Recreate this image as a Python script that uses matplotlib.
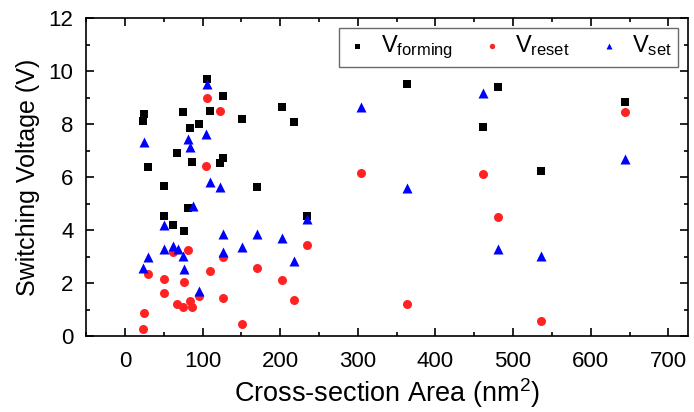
import matplotlib
matplotlib.use('Agg')
import matplotlib.pyplot as plt
from matplotlib.ticker import MultipleLocator

plt.rcParams['font.family'] = ['Liberation Sans', 'DejaVu Sans']
plt.rcParams['mathtext.fontset'] = 'custom'
plt.rcParams['mathtext.rm'] = 'Liberation Sans'
plt.rcParams['mathtext.it'] = 'Liberation Sans'

# V_forming
form_x = [105.9, 127, 24.9, 23.6, 74.3, 109, 151, 95, 83.7, 67, 87, 127, 123, 30,
          51, 169.6, 80.7, 50.6, 62.2, 76.4, 363, 202, 218, 234, 480, 644.7, 461.4, 536.6]
form_y = [9.69, 9.06, 8.40, 8.12, 8.45, 8.48, 8.20, 8.01, 7.85, 6.93, 6.58, 6.73, 6.53, 6.40,
          5.67, 5.64, 4.82, 4.53, 4.21, 3.97, 9.50, 8.63, 8.08, 4.53, 9.41, 8.84, 7.88, 6.25]

# V_reset
reset_x = [106, 123, 104.7, 81.5, 62.2, 126.6, 30, 109, 169.6, 50.2, 76.4, 51, 95.3, 127, 66.5,
           74.3, 84, 87, 24.9, 23.6, 151, 303.5, 234, 202, 218, 363, 644.7, 461.4, 480, 536.6]
reset_y = [9.0, 8.48, 6.42, 3.25, 3.16, 2.99, 2.33, 2.46, 2.57, 2.14, 2.04, 1.64, 1.51, 1.45, 1.20,
           1.11, 1.32, 1.11, 0.88, 0.29, 0.45, 6.16, 3.43, 2.11, 1.36, 1.23, 8.46, 6.11, 4.48, 0.59]

# V_set
set_x = [106, 104.7, 24.9, 80.7, 84, 109, 123, 87.6, 51, 126.6, 169.6, 30, 50.2, 62.2, 68,
         74.3, 127, 151, 23.6, 76.4, 96.1, 303.5, 363, 234, 202, 218, 461.4, 644.7, 480, 536.6]
set_y = [9.53, 7.62, 7.33, 7.43, 7.13, 5.80, 5.64, 4.9, 4.19, 3.85, 3.85, 3.0, 3.28, 3.40, 3.28,
         3.03, 3.18, 3.35, 2.57, 2.52, 1.70, 8.63, 5.60, 4.44, 3.69, 2.83, 9.16, 6.69, 3.29, 3.04]

fig = plt.figure(figsize=(6.94, 4.12), dpi=100)
ax = fig.add_axes([0.124, 0.184, 0.867, 0.772])

ax.scatter(form_x, form_y, marker='s', s=36, color='black', linewidths=0, label=r'V$_{\mathrm{forming}}$', zorder=3)
ax.scatter(reset_x, reset_y, marker='o', s=42, color='#ff2222', linewidths=0, label=r'V$_{\mathrm{reset}}$', zorder=3)
ax.scatter(set_x, set_y, marker='^', s=52, color='#0000ff', linewidths=0, label=r'V$_{\mathrm{set}}$', zorder=3)

ax.set_xlim(-50, 725)
ax.set_ylim(0, 12)
ax.xaxis.set_major_locator(MultipleLocator(100))
ax.xaxis.set_minor_locator(MultipleLocator(50))
ax.yaxis.set_major_locator(MultipleLocator(2))
ax.yaxis.set_minor_locator(MultipleLocator(1))
ax.tick_params(which='both', direction='in', top=True, right=True, labelsize=16, width=1.2)
ax.tick_params(which='major', length=6)
ax.tick_params(which='minor', length=3)
ax.tick_params(axis='x', which='major', pad=11)
ax.tick_params(axis='y', which='major', pad=9)
for sp in ax.spines.values():
    sp.set_linewidth(1.2)

ax.set_xlabel(r'Cross-section Area (nm$^2$)', fontsize=19.5, labelpad=3)
ax.set_ylabel('Switching Voltage (V)', fontsize=18, labelpad=6)

leg = ax.legend(loc='upper right', ncol=3, fontsize=17, markerscale=0.6, frameon=True, fancybox=False,
                edgecolor='#444444', handlelength=1.0, handletextpad=0.5, columnspacing=1.15,
                borderpad=0.25, borderaxespad=0.4)
leg.get_frame().set_linewidth(1.0)

fig.savefig('out.png', dpi=100)
